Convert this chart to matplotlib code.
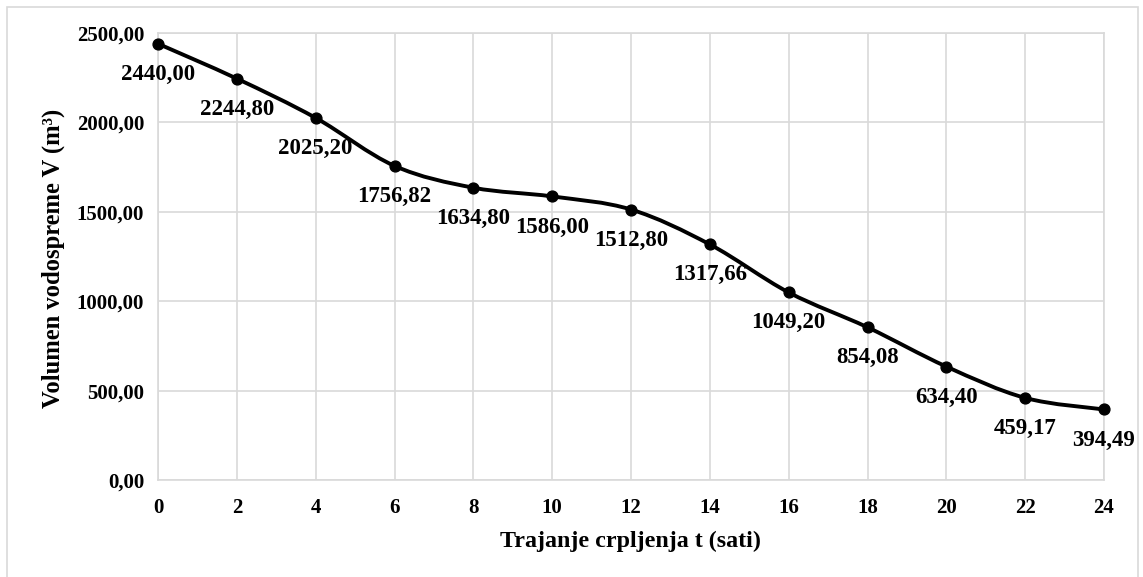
import matplotlib
matplotlib.use("Agg")
import matplotlib.pyplot as plt
from matplotlib.path import Path
from matplotlib.patches import PathPatch, Rectangle
import numpy as np

hours = [0, 2, 4, 6, 8, 10, 12, 14, 16, 18, 20, 22, 24]
volume = [2440.00, 2244.80, 2025.20, 1756.82, 1634.80, 1586.00, 1512.80,
          1317.66, 1049.20, 854.08, 634.40, 459.17, 394.49]
value_labels = ["2440,00", "2244,80", "2025,20", "1756,82", "1634,80", "1586,00",
                "1512,80", "1317,66", "1049,20", "854,08", "634,40", "459,17", "394,49"]
y_ticks = [0, 500, 1000, 1500, 2000, 2500]
y_tick_labels = ["0,00", "500,00", "1000,00", "1500,00", "2000,00", "2500,00"]
x_ticks = list(range(0, 25, 2))
x_label = "Trajanje crpljenja t (sati)"
y_label = "Volumen vodospreme V (m³)"

plt.rcParams['font.family'] = ['Liberation Serif', 'DejaVu Serif']
plt.rcParams['font.weight'] = 'bold'

fig = plt.figure(figsize=(11.43, 5.77), dpi=100)
ax = fig.add_axes([158/1143, 1 - 480/577, (1104 - 158)/1143, (480 - 33)/577])

grid_c = '#d9d9d9'

# smoothed line (Catmull-Rom style Bezier like Excel)
pts = np.column_stack([hours, volume]).astype(float)
n = len(pts)
verts = [tuple(pts[0])]
codes = [Path.MOVETO]
for i in range(n - 1):
    p_prev = pts[i - 1] if i > 0 else pts[i]
    p0 = pts[i]
    p1 = pts[i + 1]
    p_next = pts[i + 2] if i + 2 < n else pts[i + 1]
    c1 = p0 + (p1 - p_prev) / 6.0
    c2 = p1 - (p_next - p0) / 6.0
    verts += [tuple(c1), tuple(c2), tuple(p1)]
    codes += [Path.CURVE4] * 3
ax.add_patch(PathPatch(Path(verts, codes), facecolor='none', edgecolor='black',
                       lw=2.8, capstyle='round', joinstyle='round', zorder=3))
ax.plot(hours, volume, 'o', color='black', markersize=7.8, zorder=4, clip_on=False)

for x, y, s in zip(hours, volume, value_labels):
    ax.annotate(s, (x, y), xytext=(0, -22), textcoords='offset points',
                ha='center', va='center', fontsize=16.5, fontweight='bold', zorder=5)

ax.set_xlim(0, 24)
ax.set_ylim(0, 2500)
ax.set_xticks(x_ticks)
ax.set_xticklabels([str(t) for t in x_ticks], fontsize=15, fontweight='bold')
ax.set_yticks(y_ticks)
ax.set_yticklabels(y_tick_labels, fontsize=15, fontweight='bold')
ax.tick_params(length=0)
ax.tick_params(axis='y', pad=10)
ax.tick_params(axis='x', pad=13)
ax.grid(True, color=grid_c, lw=1.2)
ax.set_axisbelow(True)
for sp in ax.spines.values():
    sp.set_color(grid_c)
    sp.set_linewidth(1.2)

fig.text(630/1143, 1 - 541/577, x_label, ha='center', va='center',
         fontsize=17.3, fontweight='bold')
fig.text(53/1143, 1 - 258/577, y_label, ha='center', va='center', rotation=90,
         fontsize=17.7, fontweight='bold')

fig.patches.append(Rectangle((7/1143, -0.1), (1138 - 7)/1143, 1.1 - 7/577,
                             transform=fig.transFigure, fill=False,
                             edgecolor=grid_c, lw=1.2))

fig.savefig('out.png', dpi=100, facecolor='white')
